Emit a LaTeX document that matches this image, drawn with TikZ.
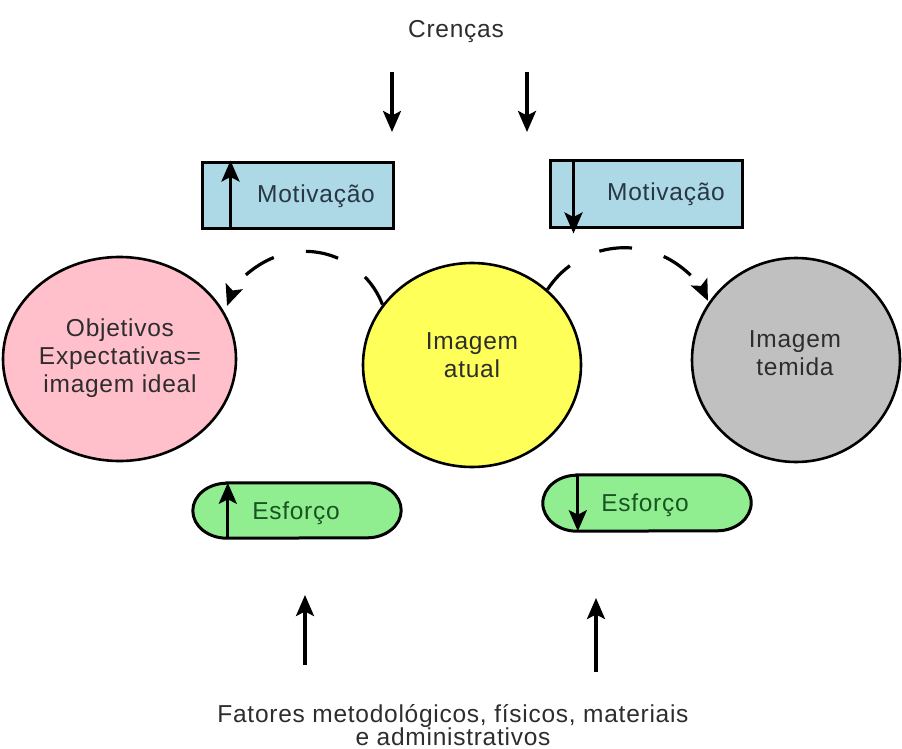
\documentclass[tikz,border=0pt]{standalone}
\usepackage{fontspec}
\setmainfont{Liberation Sans}[LetterSpace=3]
\usetikzlibrary{shapes.geometric,arrows.meta}

\definecolor{motivfill}{RGB}{173,216,230}
\definecolor{pinkfill}{RGB}{255,192,203}
\definecolor{yellowfill}{RGB}{255,255,90}
\definecolor{grayfill}{RGB}{192,192,192}
\definecolor{greenfill}{RGB}{144,238,144}
\definecolor{txtgray}{RGB}{45,45,45}
\definecolor{txtblue}{RGB}{40,55,70}
\definecolor{txtgreen}{RGB}{25,85,35}

\begin{document}
\begin{tikzpicture}[x=1pt,y=-1pt,
  lbl/.style={font=\fontsize{24.5}{28}\selectfont, text=txtgray, align=center, inner sep=0},
  tip/.style={-{Stealth[length=21pt,width=18pt,inset=4.5pt]}},
  flow/.style={line width=3.2pt, tip},
  arcflow/.style={line width=3.2pt, dash pattern=on 33pt off 33pt, tip},
  motivbox/.style={draw, line width=3pt, fill=motivfill, inner sep=0},
  blob/.style={ellipse, draw, line width=2.6pt, inner sep=0},
  pillframe/.style={draw, line width=3pt, fill=greenfill},
]
\useasboundingbox (0,0) rectangle (902,749);

% beliefs on top
\node[lbl] (crencas) at (456,32) {Crenças};
\coordinate (cl0) at (392,72);  \coordinate (cl1) at (392,132);
\coordinate (cr0) at (527,72);  \coordinate (cr1) at (527,132);
\draw[flow] (cl0) -- (cl1);
\draw[flow] (cr0) -- (cr1);

% motivation boxes
\node[motivbox, minimum width=191pt, minimum height=66pt] (mot1) at (297.5,195) {};
\node[motivbox, minimum width=192pt, minimum height=67pt] (mot2) at (646,193.5) {};
\node[lbl, text=txtblue] (mot1t) at (316,196) {Motivação};
\node[lbl, text=txtblue] (mot2t) at (666,194) {Motivação};
\draw[flow] ([xshift=30pt]mot1.south west) -- ([xshift=30pt]mot1.north west);
\draw[flow] ([xshift=25pt]mot2.north west) -- ([xshift=25pt,yshift=-5pt]mot2.south west);

% the three images
\node[blob, fill=pinkfill,   minimum width=233pt, minimum height=204pt] (ideal) at (119.5,359) {};
\node[blob, fill=yellowfill, minimum width=218pt, minimum height=204pt] (atual) at (472,365) {};
\node[blob, fill=grayfill,   minimum width=208pt, minimum height=204pt] (temida) at (796,360) {};
\node[lbl] (idealt) at (120,358) {Objetivos\\Expectativas=\\imagem ideal};
\node[lbl] (atualt) at (472,355) {Imagem\\atual};
\node[lbl] (temidat) at (795,353) {Imagem\\temida};

% dashed transitions from the current image (circular arcs over the top)
\draw[arcflow] (atual.146) arc[start angle=21, end angle=160, radius=83pt];
\draw[arcflow] (atual.45) arc[start angle=147, end angle=25, radius=92pt];

% effort pills
\node[minimum width=208pt, minimum height=55pt, inner sep=0] (es1) at (297,510.5) {};
\node[minimum width=208pt, minimum height=56pt, inner sep=0] (es2) at (647,503) {};
\draw[pillframe] ([xshift=34pt]es1.north west) -- ([xshift=-34pt]es1.north east)
  arc[start angle=90, end angle=-90, x radius=34pt, y radius=27.5pt]
  -- ([xshift=34pt]es1.south west)
  arc[start angle=270, end angle=90, x radius=34pt, y radius=27.5pt] -- cycle;
\draw[pillframe] ([xshift=34pt]es2.north west) -- ([xshift=-34pt]es2.north east)
  arc[start angle=90, end angle=-90, x radius=34pt, y radius=28pt]
  -- ([xshift=34pt]es2.south west)
  arc[start angle=270, end angle=90, x radius=34pt, y radius=28pt] -- cycle;
\node[lbl, text=txtgreen] (es1t) at (296,513) {Esforço};
\node[lbl, text=txtgreen] (es2t) at (645,505) {Esforço};
\draw[flow] ([xshift=35pt]es1.south west) -- ([xshift=35pt]es1.north west);
\draw[flow] ([xshift=35pt]es2.north west) -- ([xshift=35pt]es2.south west);

% external factors at the bottom
\coordinate (fl0) at (305,665); \coordinate (fl1) at (305,595);
\coordinate (fr0) at (596,672); \coordinate (fr1) at (596,598);
\draw[flow] (fl0) -- (fl1);
\draw[flow] (fr0) -- (fr1);
\node[lbl, anchor=base] (fatores1) at (453,722) {Fatores metodológicos, físicos, materiais};
\node[lbl, anchor=base] (fatores2) at (453,745) {e administrativos};
\end{tikzpicture}
\end{document}
